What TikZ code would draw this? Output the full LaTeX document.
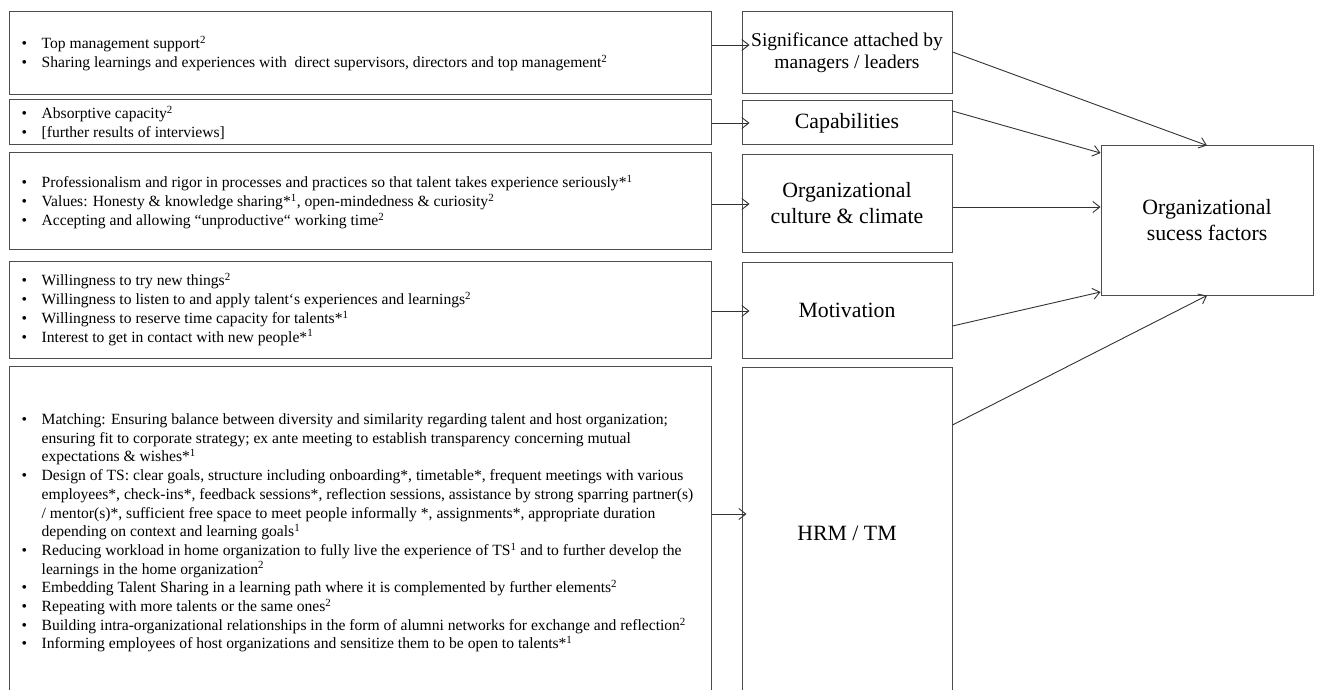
\documentclass[tikz,border=0pt]{standalone}
\usepackage{fontspec}
\setmainfont{Liberation Serif}
\usetikzlibrary{arrows.meta}
\newcommand{\myb}{\makebox[20pt][l]{\textbullet}}
\newcommand{\myc}{\hspace*{20pt}}
\newcommand{\spp}[1]{\textsuperscript{#1}}
\begin{document}
\begin{tikzpicture}[x=1pt,y=-1pt,
  box/.style={draw=black!70, line width=1pt, rectangle, inner sep=0pt},
  ltext/.style={anchor=west, inner sep=0pt, align=left, font=\fontsize{15.6}{18.7}\selectfont},
  mtext/.style={align=center, font=\fontsize{21.8}{26}\selectfont},
  stext/.style={align=center, font=\fontsize{19.5}{22.4}\selectfont},
  arr/.style={draw=black!80, line width=0.9pt, -{Straight Barb[length=7pt,width=11pt]}}]
\clip (0,0) rectangle (1317,690);
\fill[white] (0,0) rectangle (1317,690);
% left boxes
\node[box, minimum width=702pt, minimum height=83pt] (L1) at (360,53.5) {};
\node[box, minimum width=702pt, minimum height=45pt] (L2) at (360,122.5) {};
\node[box, minimum width=702pt, minimum height=96pt] (L3) at (360,201) {};
\node[box, minimum width=702pt, minimum height=97pt] (L4) at (360,309.5) {};
\node[box, minimum width=702pt, minimum height=334pt] (L5) at (360,533) {};
% left texts
\node[ltext] (T1) at ([xshift=13pt]L1.west) {\myb Top management support\spp{2}\\
\myb Sharing learnings and experiences with~ direct supervisors, directors and top management\spp{2}};
\node[ltext] (T2) at ([xshift=13pt]L2.west) {\myb Absorptive capacity\spp{2}\\
\myb [further results of interviews]};
\node[ltext] (T3) at ([xshift=13pt,yshift=-1pt]L3.west) {\myb Professionalism and rigor in processes and practices so that talent takes experience seriously*\spp{1}\\
\myb Values: Honesty \& knowledge sharing*\spp{1}, open-mindedness \& curiosity\spp{2}\\
\myb Accepting and allowing “unproductive“ working time\spp{2}};
\node[ltext] (T4) at ([xshift=13pt]L4.west) {\myb Willingness to try new things\spp{2}\\
\myb Willingness to listen to and apply talent`s experiences and learnings\spp{2}\\
\myb Willingness to reserve time capacity for talents*\spp{1}\\
\myb Interest to get in contact with new people*\spp{1}};
\node[ltext] (T5) at ([xshift=13pt]L5.west) {\myb Matching: Ensuring balance between diversity and similarity regarding talent and host organization;\\
\myc ensuring fit to corporate strategy; ex ante meeting to establish transparency concerning mutual\\
\myc expectations \& wishes*\spp{1}\\
\myb Design of TS: clear goals, structure including onboarding*, timetable*, frequent meetings with various\\
\myc employees*, check-ins*, feedback sessions*, reflection sessions, assistance by strong sparring partner(s)\\
\myc / mentor(s)*, sufficient free space to meet people informally *, assignments*, appropriate duration\\
\myc depending on context and learning goals\spp{1}\\
\myb Reducing workload in home organization to fully live the experience of TS\spp{1} and to further develop the\\
\myc learnings in the home organization\spp{2}\\
\myb Embedding Talent Sharing in a learning path where it is complemented by further elements\spp{2}\\
\myb Repeating with more talents or the same ones\spp{2}\\
\myb Building intra-organizational relationships in the form of alumni networks for exchange and reflection\spp{2}\\
\myb Informing employees of host organizations and sensitize them to be open to talents*\spp{1}};
% middle boxes
\node[box, stext, minimum width=210pt, minimum height=82pt] (M1) at (847,53) {Significance attached by\\managers / leaders};
\node[box, mtext, minimum width=210pt, minimum height=44pt] (M2) at (847,123) {Capabilities};
\node[box, mtext, minimum width=210pt, minimum height=97pt] (M3) at (847,203.5) {Organizational\\culture \& climate};
\node[box, mtext, minimum width=210pt, minimum height=96pt] (M4) at (847,310) {Motivation};
\node[box, mtext, minimum width=210pt, minimum height=333pt] (M5) at (847,533.5) {HRM / TM};
% right box
\node[box, mtext, minimum width=212pt, minimum height=149pt] (R) at (1207,220.5) {Organizational\\sucess factors};
% arrows left -> middle
\draw[arr, shorten >=-8pt] (L1.east |- 0,45) -- (M1.west |- 0,45);
\draw[arr, shorten >=-8pt] (L2.east |- 0,123) -- (M2.west |- 0,123);
\draw[arr, shorten >=-8pt] (L3.east |- 0,204) -- (M3.west |- 0,204);
\draw[arr, shorten >=-8pt] (L4.east |- 0,311) -- (M4.west |- 0,311);
\draw[arr, shorten >=-5pt] (L5.east |- 0,514) -- (M5.west |- 0,514);
% arrows middle -> right
\draw[arr] (M1.east |- 0,52) -- (R.north);
\draw[arr] (M2.east |- 0,111) -- (R.west |- 0,153);
\draw[arr] (M3.east |- 0,207) -- (R.west |- 0,207);
\draw[arr] (M4.east |- 0,326) -- (R.west |- 0,292);
\draw[arr] (M5.east |- 0,425) -- (R.south);
\end{tikzpicture}
\end{document}
